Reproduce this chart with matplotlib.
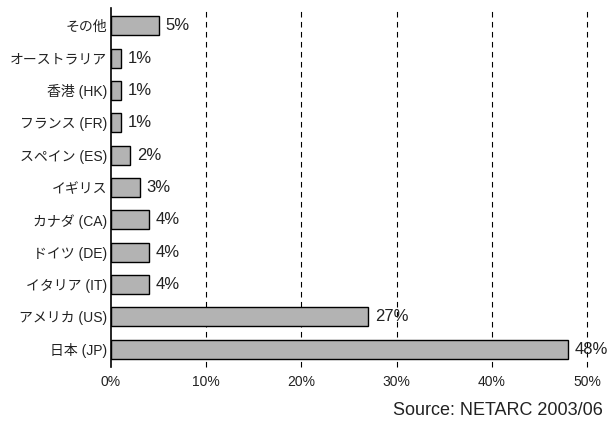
import matplotlib
matplotlib.use("Agg")
import matplotlib.pyplot as plt

plt.rcParams['font.family'] = ['Liberation Sans', 'Noto Sans CJK JP']

# data, top to bottom as shown
countries = ["その他", "オーストラリア", "香港 (HK)", "フランス (FR)", "スペイン (ES)", "イギリス",
             "カナダ (CA)", "ドイツ (DE)", "イタリア (IT)", "アメリカ (US)", "日本 (JP)"]
shares = [5, 1, 1, 1, 2, 3, 4, 4, 4, 27, 48]
xticks = [0, 10, 20, 30, 40, 50]

fig = plt.figure(figsize=(6.09, 4.23), dpi=100)
ax = fig.add_axes([111 / 609, 1 - 367 / 423, (587 - 111) / 609, (367 - 8) / 423])

ypos = list(range(len(countries)))[::-1]
ax.barh(ypos, shares, height=0.58, color="#b3b3b3", edgecolor="black", linewidth=1.0, zorder=3)

for y, v in zip(ypos, shares):
    ax.annotate(f"{v}%", (v, y), xytext=(5, 0), textcoords="offset points",
                ha="left", va="center", fontsize=12, color="#222222", zorder=4)

for x in xticks[1:]:
    ax.axvline(x, color="black", linestyle=(0, (5, 4)), linewidth=0.8, zorder=1, clip_on=False)

ax.set_xlim(0, 50)
ax.set_ylim(-0.55, len(countries) - 0.45)
ax.set_yticks(ypos)
ax.set_yticklabels(countries, fontsize=10, color="#222222")
ax.set_xticks(xticks)
ax.set_xticklabels([f"{x}%" for x in xticks], fontsize=10, color="#222222")
ax.tick_params(axis="y", length=0, pad=3)
ax.tick_params(axis="x", length=0, pad=6)

for s in ["top", "right", "bottom"]:
    ax.spines[s].set_visible(False)
ax.spines["left"].set_linewidth(1.2)

fig.text(603 / 609, 1 - 410 / 423, "Source: NETARC 2003/06", ha="right", va="center",
         fontsize=13, color="#222222")

fig.savefig("out.png", dpi=100)
